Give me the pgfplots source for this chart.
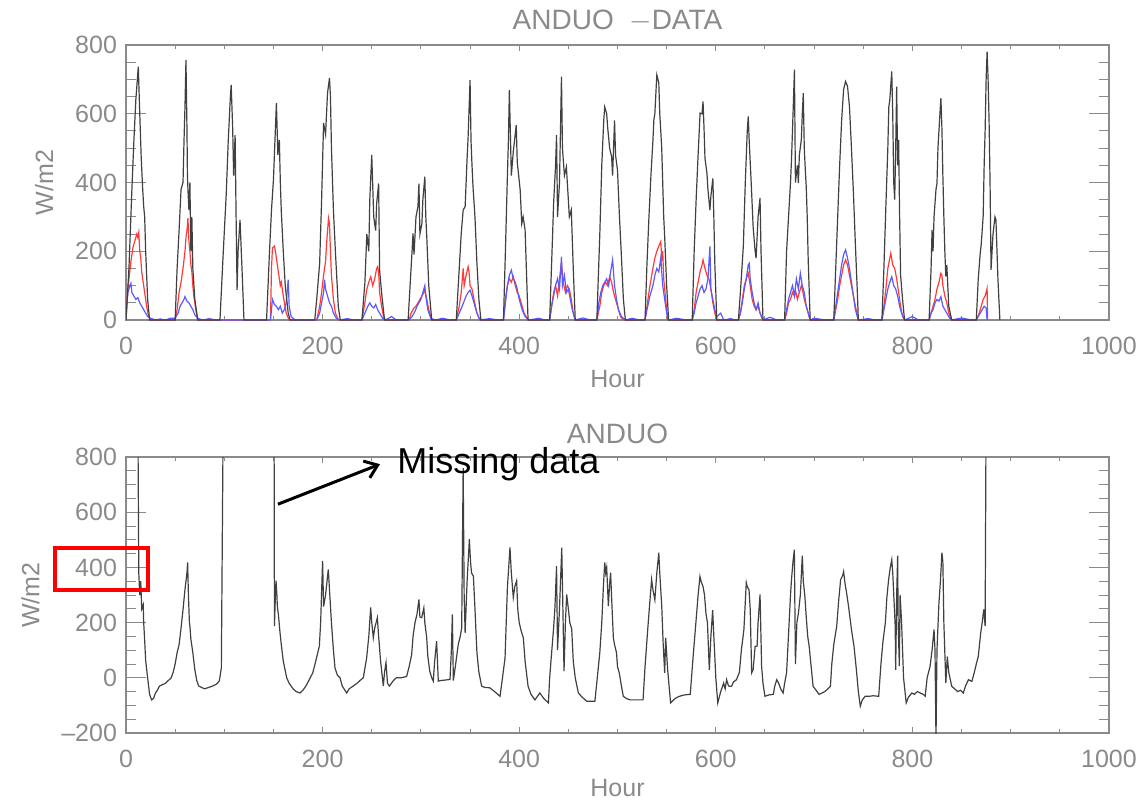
\documentclass[border=0pt]{standalone}
\usepackage{fontspec}
\setmainfont{Liberation Sans}
\usepackage{pgfplots}
\pgfplotsset{compat=1.18}
\usetikzlibrary{arrows.meta}
\definecolor{fr}{HTML}{8A8A8A}
\definecolor{ln}{HTML}{404040}
\definecolor{rd}{HTML}{FF3A3A}
\definecolor{bl}{HTML}{5A5AFF}
\pgfplotsset{
  idl/.style={
    scale only axis, width=491.5pt,
    xmin=0, xmax=1000,
    xtick={0,200,400,600,800,1000}, minor x tick num=3, minor y tick num=3,
    /pgf/number format/assume math mode=true,
    /pgf/number format/1000 sep={},
    axis line style={fr, line width=0.6pt},
    tick style={fr, line width=0.5pt},
    major tick length=10pt, minor tick length=5pt,
    xtick style={/pgfplots/major tick length=3pt, /pgfplots/minor tick length=2pt},
    tick align=inside,
    ticklabel style={font=\fontsize{12.5}{14}\selectfont, text=fr},
    xticklabel style={yshift=-5pt},
    yticklabel style={xshift=-1pt},
    label style={font=\fontsize{12.5}{15}\selectfont, text=fr},
    xlabel={Hour},
    ylabel={W/m2},
    xlabel style={yshift=-1pt},
    ylabel style={yshift=4pt},
    title style={font=\fontsize{14}{16}\selectfont, text=fr, yshift=-3pt},
    clip=true,
  }
}
\begin{document}
\begin{tikzpicture}[x=1pt,y=1pt]
\path[use as bounding box] (0,0) rectangle (571,400);
% ---------------- top panel ----------------
\begin{axis}[idl, at={(63pt,240pt)}, anchor=south west, height=137.5pt,
  ymin=0, ymax=800, ytick={0,200,400,600,800},
  title={ANDUO\ \ $-$DATA}]
\addplot[rd, line width=0.6pt] coordinates {
(0,0) (1,60) (3,120) (5,170) (7,210) (9,230) (11,250) (12,240) (13,255) (14,200) (15,180) (16,140) (17,120) (19,80) (21,40) (23,10) (25,0)
(50,0) (52,30) (54,80) (56,110) (58,150) (60,200) (61,240) (62,260) (63,296) (64,230) (65,200) (66,160) (67,140) (68,100) (69,70) (71,30) (73,0)
(147,0) (148,150) (149,210) (151,215) (152,200) (153,180) (155,140) (157,100) (158,110) (160,70) (163,20) (166,0)
(194,0) (197,40) (199,80) (201,130) (203,170) (204,220) (206,296) (207,280) (208,200) (209,130) (211,60) (213,20) (216,0)
(240,0) (243,50) (245,90) (247,110) (249,126) (251,100) (253,120) (255,150) (256,155) (257,140) (258,80) (260,40) (262,10) (264,0)
(288,0) (290,20) (293,35) (295,40) (297,50) (299,60) (301,70) (303,80) (304,87) (306,60) (308,30) (311,0)
(336,0) (339,40) (341,80) (343,150) (344,100) (346,130) (348,155) (349,140) (350,100) (352,90) (354,60) (357,20) (360,0)
(384,0) (386,60) (388,100) (390,120) (392,110) (394,126) (396,100) (398,80) (400,70) (402,50) (405,20) (409,0)
(431,0) (433,40) (435,80) (437,100) (439,70) (441,120) (443,165) (445,107) (447,80) (449,100) (451,90) (453,60) (455,20) (457,0)
(479,0) (482,40) (484,80) (486,100) (488,110) (490,100) (492,126) (494,110) (496,80) (498,60) (500,40) (503,10) (506,0)
(528,0) (530,40) (533,100) (536,150) (538,180) (540,200) (542,215) (544,228) (545,180) (546,200) (547,120) (549,60) (551,0)
(576,0) (578,30) (580,80) (582,110) (584,140) (586,160) (587,175) (589,150) (591,130) (593,120) (595,90) (597,50) (599,20) (601,0)
(623,0) (625,20) (627,60) (629,100) (631,120) (633,136) (635,100) (637,60) (639,40) (641,30) (643,40) (645,20) (648,0)
(670,0) (672,20) (674,50) (676,60) (678,80) (680,70) (681,87) (683,60) (685,80) (687,100) (688,90) (690,60) (692,40) (694,20) (696,0)
(720,0) (722,30) (724,60) (726,100) (728,130) (730,160) (732,175) (734,160) (736,130) (738,100) (740,70) (742,40) (745,0)
(769,0) (771,40) (773,90) (775,150) (777,180) (778,194) (780,160) (782,150) (784,120) (786,80) (788,40) (790,10) (792,0)
(817,0) (819,20) (821,40) (823,60) (825,90) (827,110) (829,136) (830,130) (831,100) (833,70) (835,50) (837,20) (840,0)
(865,0) (868,20) (870,40) (872,60) (874,70) (876,92) (876.5,0)
};
\addplot[bl, line width=0.6pt] coordinates {
(0,0) (1,50) (2,80) (4,100) (5,107) (6,80) (8,70) (10,60) (12,65) (14,50) (16,40) (18,30) (20,20) (22,10) (25,5) (30,0) (35,3) (40,0) (45,5)
(50,5) (53,20) (55,40) (57,50) (59,60) (60,68) (62,55) (64,50) (66,40) (68,30) (70,15) (73,5) (78,0) (85,4) (90,0)
(120,0) (147,0) (149,60) (151,45) (153,40) (155,30) (157,40) (159,20) (161,30) (163,50) (165,117) (166,40) (168,10) (172,0)
(194,0) (197,20) (199,50) (201,80) (202,117) (203,90) (205,70) (207,50) (209,40) (211,20) (214,5) (218,0) (225,4) (232,0)
(240,0) (243,20) (246,40) (248,50) (250,40) (252,35) (254,45) (256,30) (258,20) (261,5) (264,0) (270,10) (275,0)
(288,0) (291,10) (294,25) (296,40) (298,50) (300,60) (302,80) (304,100) (305,70) (307,30) (310,5) (315,0) (322,5) (330,0)
(336,0) (339,20) (342,40) (344,55) (346,70) (348,80) (350,87) (352,70) (354,50) (357,20) (360,0) (370,4) (378,0)
(384,0) (386,50) (388,100) (390,130) (392,145) (394,120) (396,110) (398,90) (400,60) (403,30) (406,10) (410,0) (420,5) (426,0)
(431,0) (433,40) (435,70) (437,100) (439,120) (441,90) (443,184) (444,100) (446,130) (448,80) (450,90) (452,60) (454,30) (457,0) (465,6) (472,0)
(479,0) (481,50) (483,80) (485,100) (487,110) (489,120) (491,100) (493,140) (495,175) (497,100) (499,60) (501,30) (504,10) (508,0) (515,5) (522,0)
(528,0) (530,30) (533,70) (536,100) (538,130) (540,150) (542,140) (544,180) (546,100) (548,60) (550,20) (552,0) (560,5) (570,0)
(576,0) (578,20) (580,50) (582,70) (584,90) (586,100) (588,80) (590,90) (592,120) (594,214) (595,90) (597,60) (599,30) (601,10) (605,20) (608,0) (615,4) (620,0)
(623,0) (625,20) (627,50) (629,90) (631,120) (633,160) (634,165) (635,120) (637,80) (639,50) (641,30) (643,50) (645,20) (648,0) (655,8) (662,0)
(670,0) (672,30) (674,60) (676,80) (678,100) (680,70) (682,120) (684,90) (686,136) (688,100) (690,80) (692,40) (694,20) (696,0) (700,5) (705,3) (710,0)
(720,0) (722,40) (724,80) (726,120) (728,160) (730,190) (732,204) (734,180) (736,150) (738,110) (740,70) (742,30) (745,0) (755,4) (762,0)
(769,0) (771,30) (773,60) (775,90) (777,110) (779,126) (781,100) (783,90) (785,70) (787,40) (789,20) (792,0) (800,10) (806,0)
(817,0) (819,20) (821,30) (823,50) (825,60) (827,55) (829,68) (831,40) (833,30) (835,20) (838,5) (840,0) (850,6) (860,0)
(865,0) (867,10) (869,20) (871,30) (873,40) (875,35) (876,0)
};
\addplot[ln, line width=0.6pt] coordinates {
(0,0) (3,150) (6,380) (8,520) (10,640) (12.5,737) (14,600) (15.5,470) (17,380) (18,330) (19,300) (20,200) (22,60) (24,0)
(50,0) (52,150) (54,260) (56,380) (58,400) (59,520) (60,620) (61,757) (62,560) (62.5,420) (63,380) (64,320) (65,400) (66,200) (67,300) (68,150) (70,60) (73,0)
(95.6,0) (99,200) (102,368) (104,520) (106,640) (107,684) (108.5,560) (109.5,420) (111,538) (112,300) (113,88) (114,200) (116,291) (118,150) (120,0)
(143,0) (146,200) (148,320) (150,408) (151.5,520) (153,631) (154.5,480) (156,524) (157,400) (158,315) (160,200) (162,100) (165,20) (167,0)
(192,0) (194,60) (197,165) (199,350) (201,573) (203,540) (205,660) (207,704) (208,650) (209,500) (211,320) (213,200) (216,38) (218,0)
(240,0) (243,107) (245,250) (247,200) (248,350) (250,480) (252,300) (254,260) (255,340) (257,397) (258,145) (260,80) (263,0)
(287,0) (289,100) (291,200) (292,252) (293,190) (295,300) (297,330) (298,397) (299,250) (301,280) (302,350) (304,417) (305,300) (306,240) (308,100) (311,0)
(336,0) (339,150) (341,250) (343,320) (345,330) (347,470) (348,530) (350,698) (351,520) (352,450) (353,388) (355,300) (357,165) (359,60) (361,0)
(384,0) (386,203) (388,420) (389,520) (390,669) (392,420) (394,490) (397,567) (398,460) (401,378) (402.6,280) (404,300) (406,262) (409,0)
(431,0) (434,250) (435,339) (437,450) (438,538) (439,300) (441,400) (443,708) (444,500) (446,420) (448,445) (450,350) (451,300) (453,320) (455,150) (457,0)
(479,0) (482,250) (484,450) (486,580) (487,620) (489,600) (490,560) (492,500) (494,475) (495,420) (497,581) (498,480) (500,436) (502,300) (504,184) (506,60) (508,0)
(528,0) (530,165) (532,300) (534,420) (536,520) (537,582) (538,600) (540,713) (542,690) (543,600) (545,500) (547,300) (548,242) (550,100) (552,0)
(576,0) (578,200) (580,350) (582,480) (584,602) (586,600) (587,636) (588,560) (589,470) (591,427) (592,380) (594,320) (595,360) (597,412) (598,300) (599,165) (601,0)
(623,0) (625,80) (628,214) (630,400) (632,550) (633,592) (634,520) (636,400) (638,270) (640,200) (641,180) (643,300) (645,355) (646,200) (648,0)
(670,0) (672,200) (674,300) (676,400) (677,466) (678,550) (680,728) (681,400) (683,450) (684,398) (685,480) (687,524) (688,600) (689,660) (690,500) (691,440) (692,388) (693,300) (694,175) (696,0)
(720,0) (722,150) (724,300) (726,450) (728,580) (730,670) (732,694) (734,680) (736,620) (738,500) (740,370) (742,220) (744,80) (745,0)
(769,0) (771,150) (773,330) (775,500) (776,620) (777,640) (779,723) (780,600) (781,400) (782,350) (783,500) (784,679) (785,450) (786,524) (787,300) (788,130) (790,60) (792,0)
(817,0) (819,150) (820,262) (821,200) (822,300) (824,380) (825,397) (826,500) (828,600) (829,645) (830,560) (831,420) (832,300) (833,200) (834,127) (835,160) (837,40) (840,0)
(865,0) (867,120) (869,194) (870,220) (872,302) (873,450) (874,553) (875,700) (876,781) (877,700) (878,580) (879,400) (880,146) (882,250) (884,300) (885,291) (887,120) (889,0)
};
\end{axis}
% ---------------- bottom panel ----------------
\begin{axis}[idl, at={(63pt,33.5pt)}, anchor=south west, height=138pt,
  ymin=-200, ymax=800, ytick={-200,0,200,400,600,800},
  yticklabels={\textendash200,0,200,400,600,800},
  xlabel style={yshift=2pt},
  title={ANDUO}]
\addplot[ln, line width=0.6pt] coordinates {
(12,1000) (13,380) (14,300) (15,350) (16,250) (17.5,265) (18,200) (19,135) (20,63) (22,0) (24,-60) (26,-80) (28,-75) (30,-55) (32,-45) (34,-30) (37,-25) (40,-20) (43,-10) (46,0) (48,20) (50,50) (52,91) (54,120) (56,180) (58,247) (60,320) (62,380) (62.7,418) (63.5,300) (64.5,200) (65,187) (66,140) (68,91) (70,30) (72,-10) (74,-30) (77,-35) (80,-40) (84,-35) (88,-30) (91,-25) (93,-20) (95,-10) (97,36) (99,1000) (150.6,1000)
(151,187) (152,300) (152.6,352) (153.5,300) (154,258) (155,230) (156.7,163) (158,120) (160,60) (163.5,0) (166,-20) (170,-40) (173,-50) (177,-55) (180,-45) (183,-30) (186,-10) (190,18) (193,60) (196.7,115) (198,200) (200,424) (201,258) (203,300) (205.8,393) (207,320) (209,200) (211,100) (212.6,36) (215,10) (217.7,0) (220,-30) (224.5,-55) (227,-40) (231,-30) (235,-20) (238,-10) (241.4,0) (244.8,72) (247,150) (248.9,255) (250,200) (251.6,145) (253,180) (255.7,218) (257,150) (259,60) (261.8,-30) (263,20) (264.5,55) (266,-20) (268,-30) (272,-10) (275,0) (280,0)
(285.5,5) (288,40) (290.6,84) (292,150) (294,200) (296,230) (298,284) (299,220) (300.8,218) (303,253) (304,200) (305.9,145) (307,80) (309,24) (311,0) (312.6,-12) (314,60) (316,133) (317.7,-12) (320,-10) (325,-8) (329.6,-6) (331,100) (332,230) (333,-10) (335,40) (338,121) (340,150) (341.5,181) (343,760) (344,300) (345,163) (347,350) (349.3,502) (350.5,420) (351.5,380) (353.4,368) (355,250) (357,91) (359,20) (361.8,-30) (365,-35) (370,-36) (375,-50) (380.5,-67)
(383,0) (385.6,72) (388,327) (390.6,472) (392,380) (394,291) (395.5,330) (397.4,352) (398.5,250) (400,200) (402,170) (404.2,145) (406,60) (409,-30) (412,-60) (416,-80) (419,-65) (421,-55) (425,-75) (429.7,-91) (431,0) (433,91) (435,180) (436.4,258) (438,405) (439,100) (441,250) (443.3,472) (445.6,24) (447,200) (448.3,302) (450,250) (451.5,200) (453.4,178) (455,60) (457,0) (460.2,-55) (464,-70) (468.7,-85) (473,-85) (477,-85)
(480,20) (482,91) (484,200) (485.6,327) (487,418) (488,380) (489,400) (490.7,260) (492,340) (493,381) (494.5,250) (495.8,145) (497,120) (499,91) (500,40) (501.8,18) (504,-30) (505.9,-67) (509,-75) (512.7,-80) (518,-80) (522,-80) (526,-80) (528,40) (531,187) (533,280) (534.7,356) (536,320) (538,282) (540,380) (542,453) (543,380) (545,260) (546.5,120) (548,18) (549,145) (551,30) (554,-91) (557,-80) (560,-72) (563,-67) (568,-62) (574,-60)
(577,80) (580.5,233) (582,300) (583.9,367) (585,350) (587,331) (588.5,300) (590,233) (591.5,200) (593.4,29) (595,150) (596.8,245) (598,150) (599,77) (600,0) (602,-91) (605,-50) (608,-19) (609.5,-40) (611,-7) (613,-30) (616,-31) (618,-15) (621,-7) (624,20) (626,100) (628.6,175) (631,345) (632,330) (633.8,319) (635,250) (636.5,18) (638,30) (640,114) (642,114) (643,200) (645,302) (646.6,42) (648,-20) (650,-67) (654,-62) (658.5,-60) (660,-30) (662,-7) (664,-20) (666,-40) (668.5,-55)
(670,-20) (672,18) (674.6,200) (676,300) (677,356) (678.5,420) (679.9,464) (681,50) (682.5,200) (684,233) (686,300) (688,443) (689,350) (690.5,300) (692,221) (693.5,150) (695,114) (697,40) (699,-31) (702,-45) (705,-60) (708,-55) (711,-50) (714,-40) (716.6,-31) (718,50) (720,120) (723,187) (725,280) (727,356) (729,370) (730,385) (731.5,340) (733.1,307) (735,260) (738,175) (740.6,114) (743,30) (745,-50) (747,-103) (749,-80) (752,-67) (756,-67) (760,-65) (765.7,-67)
(768,50) (770,130) (772.5,200) (774,290) (775.8,356) (777.5,400) (779,428) (780,380) (782.5,187) (783,29) (784,300) (785,443) (785.5,200) (786.7,42) (787.5,300) (789,200) (791,0) (793.7,-91) (796,-70) (799.5,-55) (802,-60) (805,-50) (808,-55) (811,-60) (813,-67) (815,0) (818,42) (820,100) (822,175) (823,100) (824,-224) (825,100) (827,272) (828.5,350) (830,453) (831,420) (832,200) (834,-19) (835.5,77) (837,20) (840,-31) (843,-40) (846,-50) (849,-45) (851.8,-55) (854,-30) (857,-7) (860.5,-13) (863,20) (865,50) (867,77) (869.5,163) (871,200) (872.6,248) (874,187) (875,1000)
};
\draw[black, line width=1.5pt, -{Straight Barb[length=6pt,width=9pt]}] (axis cs:154.6,629) -- (axis cs:258.4,774);
\end{axis}
\node[anchor=base west, inner sep=0pt, font=\fontsize{18}{20}\selectfont] at (198.5,163.5) {Missing data};
\draw[red, line width=2pt] (27.5,105) rectangle (74,126);
\end{tikzpicture}
\end{document}
